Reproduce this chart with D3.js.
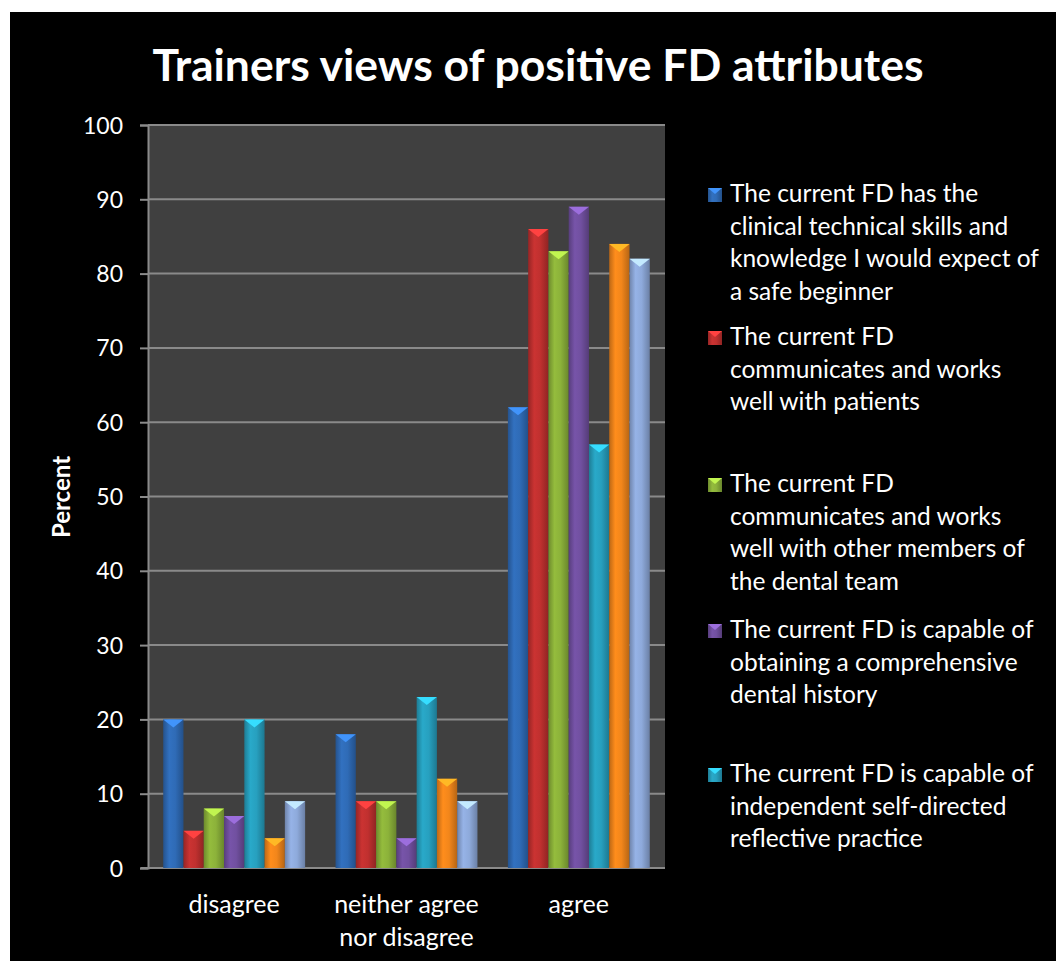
<!DOCTYPE html>
<html><head><meta charset="utf-8">
<script src="https://cdn.jsdelivr.net/npm/d3@7"></script>
<style>
html,body{margin:0;padding:0;background:#fff;}
svg{display:block;}
text{font-family:Lato,"Open Sans",sans-serif;}
</style></head>
<body>
<svg id="chart" width="1056" height="961"></svg>
<script>
const categories = ["disagree", "neither agree\nnor disagree", "agree"];
const seriesNames = [
  "The current FD has the clinical technical skills and knowledge I would expect of a safe beginner",
  "The current FD communicates and works well with patients",
  "The current FD communicates and works well with other members of the dental team",
  "The current FD is capable of obtaining a comprehensive dental history",
  "The current FD is capable of independent self-directed reflective practice",
  "Series 6",
  "Series 7"
];
const s1 = [20, 18, 62];
const s2 = [5, 9, 86];
const s3 = [8, 9, 83];
const s4 = [7, 4, 89];
const s5 = [20, 23, 57];
const s6 = [4, 12, 84];
const s7 = [9, 9, 82];
const seriesValues = [s1, s2, s3, s4, s5, s6, s7];
const yTicks = [0, 10, 20, 30, 40, 50, 60, 70, 80, 90, 100];
const colors = ["#2f6bb6", "#c0302f", "#8cb23a", "#7150a0", "#27a0bf", "#f2861b", "#8eaadb"];
const legendLines = [
  ["The current FD has the", "clinical technical skills and", "knowledge I would expect of", "a safe beginner"],
  ["The current FD", "communicates and works", "well with patients"],
  ["The current FD", "communicates and works", "well with other members of", "the dental team"],
  ["The current FD is capable of", "obtaining a comprehensive", "dental history"],
  ["The current FD is capable of", "independent self-directed", "reflective practice"]
];
const legendTop = [202, 345, 492, 638, 782];

const svg = d3.select("#chart");
svg.append("rect").attr("x", 10).attr("y", 12).attr("width", 1046).attr("height", 949).attr("fill", "#000");

const plot = {left: 148, right: 665, top: 125, bottom: 868};
const x0 = d3.scaleBand().domain(d3.range(categories.length)).range([plot.left, plot.right]).paddingInner(0).paddingOuter(0);
const bw = x0.bandwidth();
const barW = bw / 8.5;
const y = d3.scaleLinear().domain([0, 100]).range([plot.bottom, plot.top]);

// defs gradients
const defs = svg.append("defs");
colors.forEach((c, i) => {
  const g = defs.append("linearGradient").attr("id", "g" + i).attr("x1", "0").attr("x2", "1").attr("y1", "0").attr("y2", "0");
  const base = d3.color(c);
  g.append("stop").attr("offset", "0").attr("stop-color", base.darker(0.7));
  g.append("stop").attr("offset", "0.3").attr("stop-color", base.brighter(0.15));
  g.append("stop").attr("offset", "0.6").attr("stop-color", base);
  g.append("stop").attr("offset", "1").attr("stop-color", base.darker(0.8));
});

// plot background
svg.append("rect").attr("x", plot.left).attr("y", plot.top).attr("width", plot.right - plot.left).attr("height", plot.bottom - plot.top).attr("fill", "#404040");

// gridlines
svg.append("g").selectAll("line").data(yTicks.filter(d => d > 0)).join("line")
  .attr("x1", plot.left).attr("x2", plot.right)
  .attr("y1", d => y(d)).attr("y2", d => y(d))
  .attr("stroke", "#8a8a8a").attr("stroke-width", 2);

// y axis
const yAxis = d3.axisLeft(y).tickValues(yTicks).tickSize(8).tickPadding(17);
const ya = svg.append("g").attr("transform", `translate(${plot.left},0)`).call(yAxis);
ya.select(".domain").attr("stroke", "#8a8a8a").attr("stroke-width", 2);
ya.selectAll(".tick line").attr("stroke", "#8a8a8a").attr("stroke-width", 2);
ya.selectAll(".tick text").attr("fill", "#fff").attr("font-size", 23).attr("font-family", "Lato,'Open Sans',sans-serif").attr("dy", "0.35em");

// x axis baseline
svg.append("line").attr("x1", plot.left - 7).attr("x2", plot.right).attr("y1", plot.bottom).attr("y2", plot.bottom).attr("stroke", "#8a8a8a").attr("stroke-width", 2);

// bars
const gBars = svg.append("g");
seriesValues.forEach((vals, si) => {
  vals.forEach((v, ci) => {
    const bx = x0(ci) + barW * 0.75 + si * barW;
    const top = y(v);
    gBars.append("rect").attr("x", bx).attr("y", top).attr("width", barW).attr("height", plot.bottom - top).attr("fill", `url(#g${si})`);
    const capH = Math.min(8, (plot.bottom - top));
    const light = d3.color(colors[si]).brighter(0.9);
    gBars.append("path")
      .attr("d", `M${bx},${top}L${bx + barW},${top}L${bx + barW / 2},${top + capH}Z`)
      .attr("fill", light);
  });
});

// x labels
categories.forEach((c, i) => {
  const t = svg.append("text").attr("x", x0(i) + bw / 2).attr("y", 913).attr("text-anchor", "middle").attr("fill", "#fff").attr("font-size", 25);
  c.split("\n").forEach((line, k) => {
    t.append("tspan").attr("x", x0(i) + bw / 2).attr("dy", k === 0 ? 0 : 33).text(line);
  });
});

// title
svg.append("text").attr("x", 538).attr("y", 81).attr("text-anchor", "middle").attr("fill", "#fff")
  .attr("font-size", 44.5).attr("font-weight", "bold").text("Trainers views of positive FD attributes");

// y label
svg.append("text").attr("transform", "translate(70,497) rotate(-90)").attr("text-anchor", "middle").attr("fill", "#fff")
  .attr("font-size", 24).attr("font-weight", "bold").text("Percent");

// legend
legendLines.forEach((lines, i) => {
  const base = d3.color(colors[i]);
  const my = legendTop[i] - 14;
  svg.append("rect").attr("x", 708).attr("y", my).attr("width", 14).attr("height", 14).attr("fill", `url(#g${i})`);
  svg.append("path").attr("d", `M708,${my}L722,${my}L715,${my + 6}Z`).attr("fill", base.brighter(0.9));
  const t = svg.append("text").attr("x", 730).attr("y", legendTop[i]).attr("fill", "#fff").attr("font-size", 24.5);
  lines.forEach((ln, k) => t.append("tspan").attr("x", 730).attr("dy", k === 0 ? 0 : 32.5).text(ln));
});
</script>
</body></html>
